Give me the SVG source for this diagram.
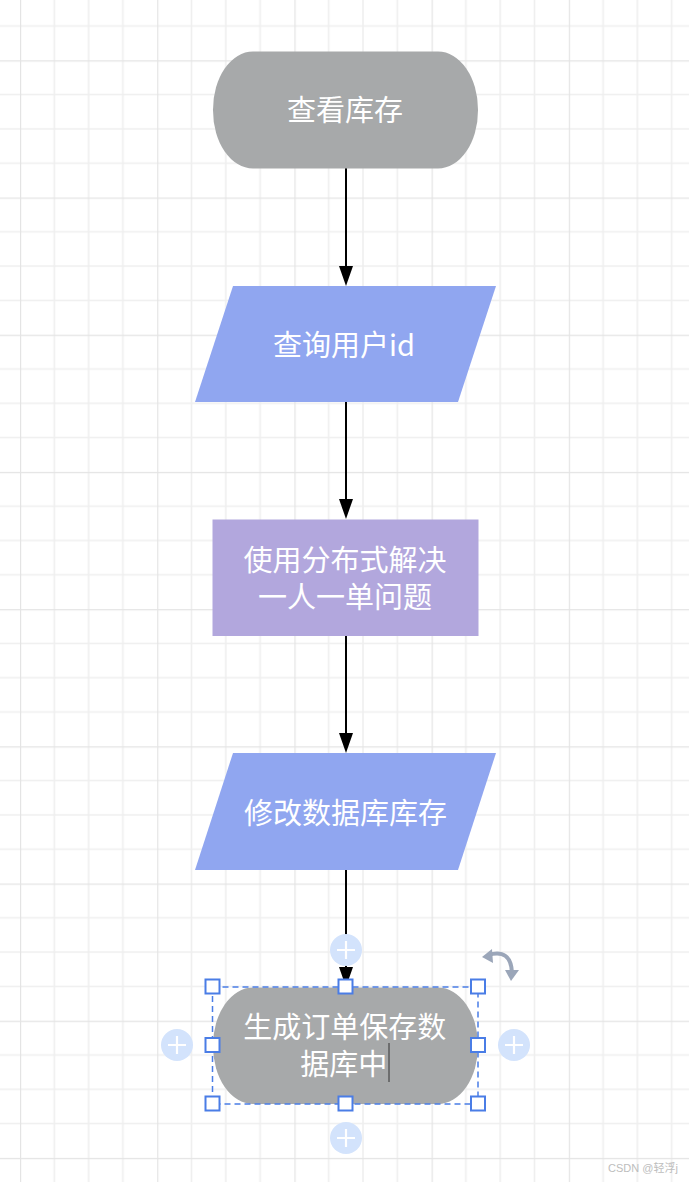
<svg xmlns="http://www.w3.org/2000/svg" width="689" height="1182" viewBox="0 0 689 1182">
<defs>
<pattern id="grid" patternUnits="userSpaceOnUse" x="20" y="60.3" width="137.2" height="137.2">
<path d="M34.3 0V137.2M68.6 0V137.2M102.9 0V137.2M0 34.3H137.2M0 68.6H137.2M0 102.9H137.2" stroke="#efefef" stroke-width="1.6" fill="none"/>
<path d="M0 0V137.2M0 0H137.2" stroke="#e4e4e4" stroke-width="2.4" fill="none"/>
</pattern>
<style>
.lbl{font-family:"Microsoft YaHei","Noto Sans CJK SC","Noto Sans",sans-serif;font-size:29px;fill:#ffffff;text-anchor:middle}
.term{fill:#a7a9aa}
.io{fill:#90a6f0}
.proc{fill:#b2a7dd}
.conn{stroke:#000;stroke-width:2;fill:none}
.head{fill:#000}
.handle{fill:#fff;stroke:#4a7de6;stroke-width:2}
.plus{fill:#d3e3fc}
.plusline{stroke:#fff;stroke-width:2.2}
</style>
</defs>
<rect width="689" height="1182" fill="#ffffff"/>
<rect width="689" height="1182" fill="url(#grid)"/>

<g id="connectors">
<line class="conn" x1="346" y1="168" x2="346" y2="268"/>
<path class="head" d="M339 266L353 266L346 286Z"/>
<line class="conn" x1="346" y1="402" x2="346" y2="501"/>
<path class="head" d="M339 499L353 499L346 519Z"/>
<line class="conn" x1="346" y1="636" x2="346" y2="735"/>
<path class="head" d="M339 733L353 733L346 753Z"/>
<line class="conn" x1="346" y1="870" x2="346" y2="969"/>
<path class="head" d="M339 967L353 967L346 987Z"/>
</g>

<g id="node-start">
<rect class="term" x="213" y="51.5" width="265" height="117" rx="40" ry="58"/>
<text class="lbl" x="345" y="121">查看库存</text>
</g>

<g id="node-userid">
<polygon class="io" points="233,286 496,286 458,402 195,402"/>
<text class="lbl" x="344" y="355.5">查询用户id</text>
</g>

<g id="node-distributed">
<rect class="proc" x="212.5" y="519.5" width="266" height="116.5"/>
<text class="lbl"><tspan x="345" y="571">使用分布式解决</tspan><tspan x="345" y="608">一人一单问题</tspan></text>
</g>

<g id="node-stock">
<polygon class="io" points="233,753 496,753 458,870 195,870"/>
<text class="lbl" x="345.5" y="823.5">修改数据库库存</text>
</g>

<g id="node-save">
<rect class="term" x="213" y="987.5" width="265" height="116.5" rx="40" ry="58"/>
<text class="lbl"><tspan x="344.7" y="1038">生成订单保存数</tspan><tspan x="343.7" y="1074.5">据库中</tspan></text>
<line x1="389" y1="1043" x2="389" y2="1082" stroke="#333" stroke-width="1"/>
</g>

<g id="selection">
<rect x="212.5" y="987" width="265.5" height="117" fill="none" stroke="#4a7de6" stroke-width="1.5" stroke-dasharray="6 4"/>
<rect class="handle" x="205.5" y="979.5" width="14" height="14"/>
<rect class="handle" x="338.5" y="979.5" width="14" height="14"/>
<rect class="handle" x="471" y="979.5" width="14" height="14"/>
<rect class="handle" x="205.5" y="1038" width="14" height="14"/>
<rect class="handle" x="471" y="1038" width="14" height="14"/>
<rect class="handle" x="205.5" y="1096.5" width="14" height="14"/>
<rect class="handle" x="338.5" y="1096.5" width="14" height="14"/>
<rect class="handle" x="471" y="1096.5" width="14" height="14"/>
<circle class="plus" cx="346" cy="950" r="16"/>
<path class="plusline" d="M337 950H355M346 941V959"/>
<circle class="plus" cx="177" cy="1045" r="16"/>
<path class="plusline" d="M168 1045H186M177 1036V1054"/>
<circle class="plus" cx="514" cy="1045" r="16"/>
<path class="plusline" d="M505 1045H523M514 1036V1054"/>
<circle class="plus" cx="346" cy="1138" r="16"/>
<path class="plusline" d="M337 1138H355M346 1129V1147"/>
<path d="M488 955Q511 948 512 973" fill="none" stroke="#9ba6b9" stroke-width="4"/>
<path d="M482 957L492 949L493 963Z" fill="#9ba6b9"/>
<path d="M505 970L519 970L511 981Z" fill="#9ba6b9"/>
</g>

<text x="608" y="1172" font-family="'Liberation Sans','Noto Sans CJK SC',sans-serif" font-size="11" fill="#bdbdbd">CSDN @轻浮j</text>
</svg>
